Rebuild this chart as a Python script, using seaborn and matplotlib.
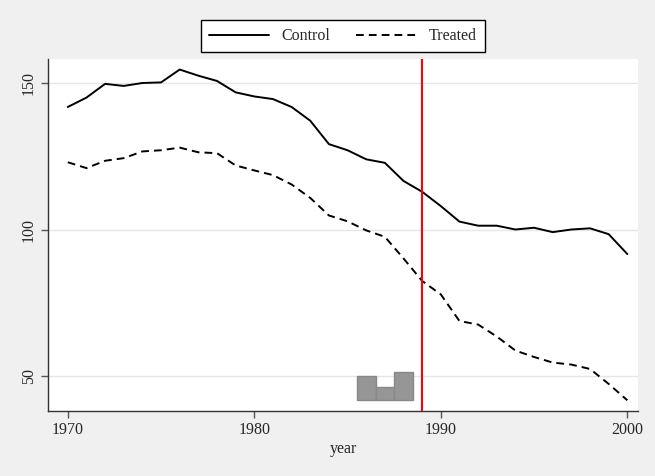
import pandas as pd
import numpy as np
import matplotlib
matplotlib.use('Agg')
import matplotlib.pyplot as plt
import seaborn as sns

years = list(range(1970, 2001))
control = [141.9, 145.1, 149.8, 149.1, 150.1, 150.3, 154.7, 152.6, 150.8, 146.9,
           145.5, 144.6, 141.9, 137.2, 129.2, 127.1, 124.0, 122.8, 116.6, 112.9,
           108.0, 102.7, 101.3, 101.3, 100.0, 100.6, 99.1, 100.0, 100.4, 98.4, 91.6]
treated = [123.0, 121.0, 123.5, 124.4, 126.7, 127.1, 128.0, 126.4, 126.1, 121.9,
           120.2, 118.6, 115.4, 110.8, 104.8, 102.8, 99.7, 97.5, 90.1, 82.4,
           77.8, 68.7, 67.5, 63.4, 58.6, 56.4, 54.5, 53.8, 52.3, 47.2, 41.6]
bar_years = [1986, 1987, 1988]
bar_heights = [8.2, 4.5, 9.7]
bar_base = 41.6
treat_year = 1989

df = pd.DataFrame({
    'year': years * 2,
    'value': control + treated,
    'group': ['Control'] * len(years) + ['Treated'] * len(years),
})

sns.set_style('white')
plt.rcParams['font.family'] = ['Liberation Serif', 'DejaVu Serif']

fig = plt.figure(figsize=(6.55, 4.76), dpi=100, facecolor='#f0f0f0')
ax = fig.add_axes([0.0733, 0.1366, 0.9007, 0.7388])
ax.set_facecolor('white')

ax.bar(bar_years, bar_heights, width=1.0, bottom=bar_base, color='#969696',
       edgecolor='#888888', linewidth=1, zorder=2)

sns.lineplot(data=df, x='year', y='value', style='group', color='black',
             dashes={'Control': '', 'Treated': (4, 2.6)}, linewidth=1.4,
             ax=ax, zorder=3)

ax.axvline(treat_year, color='#ff0000', linewidth=1.5, zorder=4)

ax.set_xlim(1968.94, 2000.57)
ax.set_ylim(37.94, 158.2)
ax.set_xticks([1970, 1980, 1990, 2000])
ax.set_yticks([50, 100, 150])
ax.yaxis.grid(True, color='#e6e6e6', linewidth=1)
ax.set_axisbelow(True)
ax.tick_params(axis='both', direction='out', length=5, width=1, color='#555555',
               labelsize=11.5, pad=3)
ax.tick_params(axis='x', bottom=True)
ax.tick_params(axis='y', left=True)
for lab in ax.get_yticklabels():
    lab.set_rotation(90)
    lab.set_va('center')
for s in ['top', 'right']:
    ax.spines[s].set_visible(False)
for s in ['left', 'bottom']:
    ax.spines[s].set_color('#333333')
    ax.spines[s].set_linewidth(1)
ax.set_xlabel('year', fontsize=11.5, labelpad=2)
ax.set_ylabel('')

handles, labels = ax.get_legend_handles_labels()
leg = ax.legend(handles, labels, loc='lower center', bbox_to_anchor=(0.5, 1.02),
                ncol=2, frameon=True, fancybox=False, edgecolor='black',
                fontsize=11.5, handlelength=3.75, columnspacing=1.6,
                handletextpad=0.8, borderpad=0.5, borderaxespad=0,
                framealpha=1)
leg.get_frame().set_linewidth(1)

fig.savefig('out.png', dpi=100, facecolor='#f0f0f0')
